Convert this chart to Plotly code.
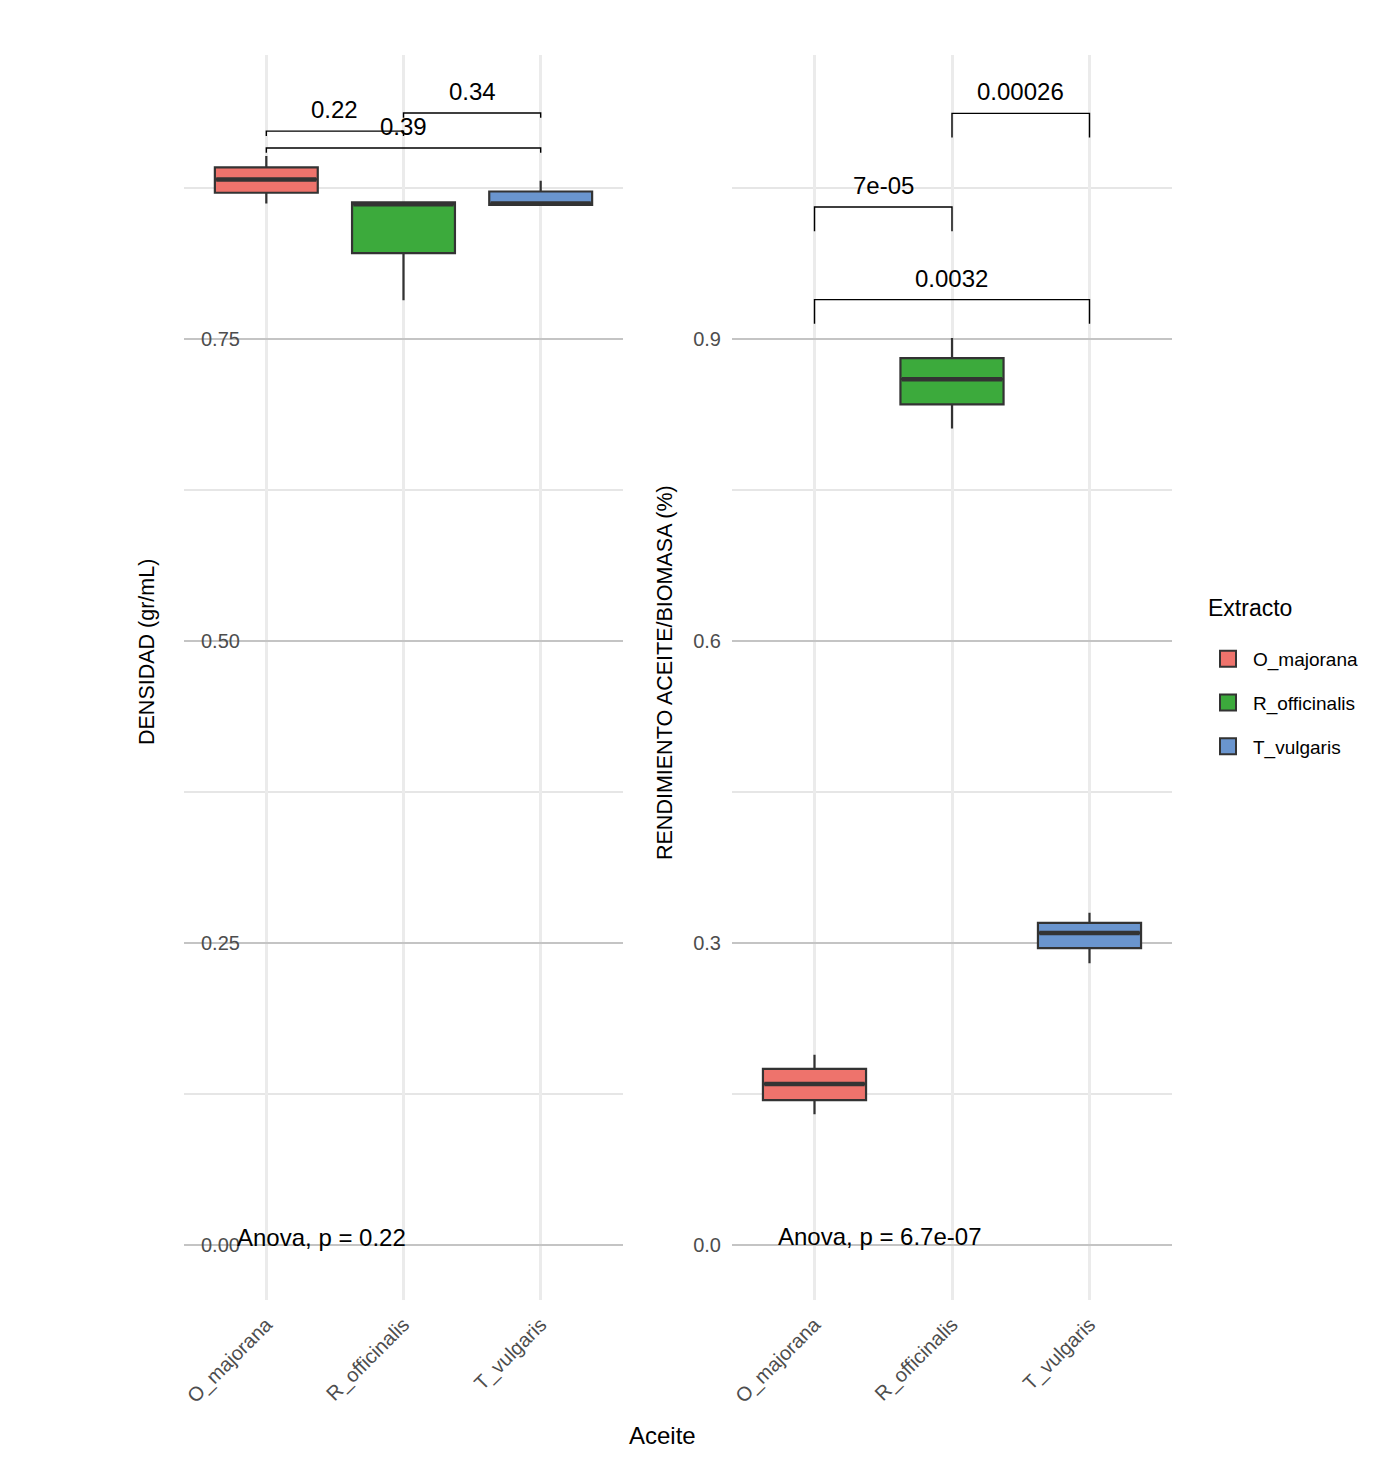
import plotly.graph_objects as go

# categories
especies = ["O_majorana", "R_officinalis", "T_vulgaris"]
colores = ["#EE736C", "#3CAA3C", "#6A95CE"]

# densidad (gr/mL): box statistics per species
dens_low = [0.862, 0.782, 0.861]
dens_q1 = [0.871, 0.821, 0.861]
dens_med = [0.882, 0.8615, 0.862]
dens_q3 = [0.892, 0.863, 0.872]
dens_high = [0.9015, 0.863, 0.881]

# rendimiento aceite/biomasa (%): box statistics per species
rend_low = [0.130, 0.811, 0.280]
rend_q1 = [0.144, 0.835, 0.295]
rend_med = [0.160, 0.860, 0.310]
rend_q3 = [0.175, 0.881, 0.320]
rend_high = [0.189, 0.901, 0.330]

# pairwise comparisons: (group a, group b, p label, bracket level)
comp_dens = [(0, 1, "0.22", 0.922), (0, 2, "0.39", 0.908), (1, 2, "0.34", 0.937)]
comp_rend = [(0, 1, "7e-05", 1.031), (0, 2, "0.0032", 0.939), (1, 2, "0.00026", 1.124)]
tip_dens = 0.004
tip_rend = 0.024

anova_dens = "Anova, p = 0.22"
anova_rend = "Anova, p = 6.7e-07"

FONT = "Liberation Sans, Arial, sans-serif"
# page body has an 8px margin, so the figure is 16px smaller than the window
OFF = 8
W, H = 1393 - 2 * OFF, 1464 - 2 * OFF
px = lambda v: (v - OFF) / W
py = lambda v: 1 - (v - OFF) / H
BOX_W = 0.75

fig = go.Figure()
shapes = []

panels = [
    ("x", "y", dens_low, dens_q1, dens_med, dens_q3, dens_high),
    ("x2", "y2", rend_low, rend_q1, rend_med, rend_q3, rend_high),
]
for xa, ya, lo, q1, med, q3, hi in panels:
    for i, sp in enumerate(especies):
        fig.add_trace(go.Box(
            x=[sp], lowerfence=[lo[i]], q1=[q1[i]], median=[med[i]],
            q3=[q3[i]], upperfence=[hi[i]],
            name=sp, legendgroup=sp, showlegend=False,
            fillcolor=colores[i], line=dict(color="#333333", width=2.2),
            width=BOX_W, whiskerwidth=0, boxpoints=False,
            xaxis=xa, yaxis=ya,
        ))
        # thicker median line, as in ggplot
        shapes.append(dict(
            type="line", xref=xa, yref=ya,
            x0=i - BOX_W / 2 + 0.01, x1=i + BOX_W / 2 - 0.01, y0=med[i], y1=med[i],
            line=dict(color="#333333", width=4.5),
        ))

# legend entries
for i, sp in enumerate(especies):
    fig.add_trace(go.Scatter(
        x=[None], y=[None], mode="markers", name=sp, legendgroup=sp,
        marker=dict(symbol="square", size=16, color=colores[i],
                    line=dict(color="#333333", width=2)),
        xaxis="x", yaxis="y",
    ))

annotations = []
for xa, ya, comps, tip in [("x", "y", comp_dens, tip_dens), ("x2", "y2", comp_rend, tip_rend)]:
    for a, b, lab, lvl in comps:
        fig.add_trace(go.Scatter(
            x=[especies[a], especies[a], especies[b], especies[b]],
            y=[lvl - tip, lvl, lvl, lvl - tip],
            mode="lines", line=dict(color="black", width=1.4),
            showlegend=False, hoverinfo="skip", xaxis=xa, yaxis=ya,
        ))
        annotations.append(dict(
            x=(a + b) / 2, y=lvl, xref=xa, yref=ya, text=lab, showarrow=False,
            xanchor="center", yanchor="bottom", yshift=6,
            font=dict(family=FONT, size=24, color="black"),
        ))

annotations += [
    dict(x=-0.23, y=0.0066, xref="x", yref="y", text=anova_dens, showarrow=False,
         xanchor="left", yanchor="middle", font=dict(family=FONT, size=24, color="black")),
    dict(x=-0.28, y=0.008, xref="x2", yref="y2", text=anova_rend, showarrow=False,
         xanchor="left", yanchor="middle", font=dict(family=FONT, size=24, color="black")),
    dict(x=px(147), y=py(652), xref="paper", yref="paper", text="DENSIDAD (gr/mL)",
         textangle=-90, showarrow=False, xanchor="center", yanchor="middle",
         font=dict(family=FONT, size=21.5, color="black")),
    dict(x=px(665), y=py(673), xref="paper", yref="paper",
         text="RENDIMIENTO ACEITE/BIOMASA (%)", xanchor="center", yanchor="middle",
         textangle=-90, showarrow=False, font=dict(family=FONT, size=21.5, color="black")),
    dict(x=px(662), y=py(1435), xref="paper", yref="paper", text="Aceite",
         xanchor="center", yanchor="middle",
         showarrow=False, font=dict(family=FONT, size=24, color="black")),
    dict(x=px(1206), y=py(608), xref="paper", yref="paper", text="Extracto",
         xanchor="left", yanchor="middle",
         showarrow=False, font=dict(family=FONT, size=23, color="black")),
]

ydom = [py(1300), py(55)]
xax_common = dict(
    type="category", categoryorder="array", categoryarray=especies,
    range=[-0.6, 2.6], showgrid=True, gridcolor="#EBEBEB", gridwidth=2.5,
    zeroline=False, showline=False, ticks="", tickangle=-45, ticklabelstandoff=8,
    tickfont=dict(family=FONT, size=20, color="#4D4D4D"),
)
yax_common = dict(
    showgrid=True, gridcolor="#C4C4C4", gridwidth=1.5, zeroline=False,
    showline=False, ticks="",
    tickfont=dict(family=FONT, size=20, color="#4D4D4D"),
)

fig.update_layout(
    width=W, height=H,
    margin=dict(l=0, r=0, t=0, b=0),
    plot_bgcolor="white", paper_bgcolor="white",
    xaxis=dict(domain=[px(184), px(623)], anchor="y", **xax_common),
    xaxis2=dict(domain=[px(732), px(1172)], anchor="y2", **xax_common),
    yaxis=dict(domain=ydom, anchor="x", range=[-0.0455, 0.985],
               tickvals=[0, 0.25, 0.5, 0.75], ticktext=["0.00", "0.25", "0.50", "0.75"],
               ticklabelposition="inside", ticklabelstandoff=14,
               minor=dict(showgrid=True, gridcolor="#E6E6E6", gridwidth=1.5,
                          tick0=0, dtick=0.125),
               **yax_common),
    yaxis2=dict(domain=ydom, anchor="x2", range=[-0.0546, 1.182],
                tickvals=[0, 0.3, 0.6, 0.9], ticktext=["0.0", "0.3", "0.6", "0.9"],
                ticklabelstandoff=10,
                minor=dict(showgrid=True, gridcolor="#E6E6E6", gridwidth=1.5,
                           tick0=0, dtick=0.15),
                **yax_common),
    legend=dict(
        x=px(1203), y=py(640), xanchor="left", yanchor="top",
        font=dict(family=FONT, size=19, color="black"),
        tracegroupgap=16, itemwidth=40, bgcolor="rgba(0,0,0,0)",
    ),
    boxmode="overlay",
    shapes=shapes,
    annotations=annotations,
)

fig.write_html("out.html")
